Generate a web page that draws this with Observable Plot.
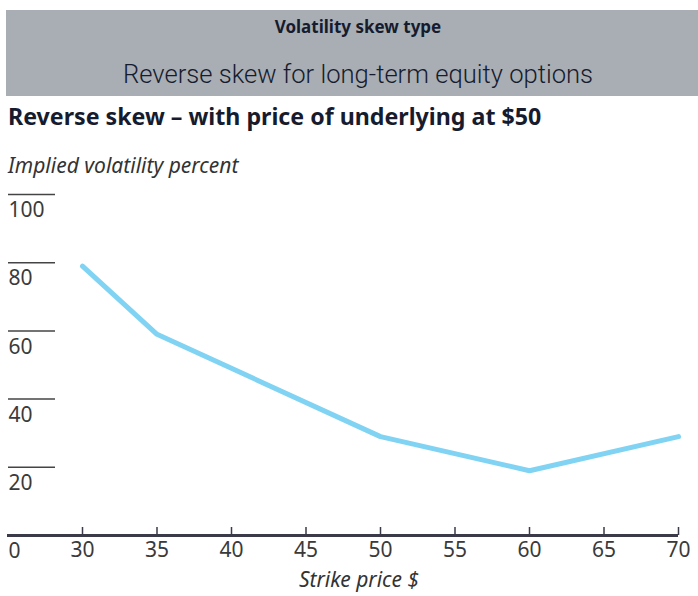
<!DOCTYPE html>
<html>
<head>
<meta charset="utf-8">
<script src="https://cdn.jsdelivr.net/npm/d3@7"></script>
<script src="https://cdn.jsdelivr.net/npm/@observablehq/plot@0.6"></script>
<style>
  html, body { margin: 0; padding: 0; background: #fff; }
  body { width: 698px; height: 596px; position: relative; overflow: hidden; font-family: "Noto Sans", sans-serif; }
  #header { position: absolute; left: 6px; top: 10px; width: 692px; height: 86px; background: #a8aeb4; }
  #kicker { position: absolute; left: 0; width: 704px; top: 5px; text-align: center; font-weight: bold; font-size: 17px; color: #161b2e; }
  #sub { position: absolute; left: 0; width: 704px; top: 49px; text-align: center; font-family: Roboto, "Noto Sans", sans-serif; font-weight: 300; font-size: 25.6px; color: #161b2e; }
  #title { position: absolute; left: 8px; top: 100px; font-weight: bold; font-size: 23.2px; color: #161b2e; white-space: nowrap; }
  #ylab { position: absolute; left: 8px; top: 151px; font-style: italic; font-size: 21px; color: #333; white-space: nowrap; }
  #chart { position: absolute; left: 0; top: 180px; }
</style>
</head>
<body>
<div id="header">
  <div id="kicker">Volatility skew type</div>
  <div id="sub">Reverse skew for long-term equity options</div>
</div>
<div id="title">Reverse skew – with price of underlying at $50</div>
<div id="ylab">Implied volatility percent</div>
<div id="chart"></div>
<script>
const strikes = [30, 35, 50, 60, 70];
const vols = [79, 59, 29, 19, 29];
const xTicks = [30, 35, 40, 45, 50, 55, 60, 65, 70];
const yTicks = [0, 20, 40, 60, 80, 100];
const xLabel = "Strike price $";

const data = strikes.map((s, i) => ({strike: s, vol: vols[i]}));

const W = 698, H = 416, MT = 14, MB = 61;
const frameH = H - MT - MB;

const chart = Plot.plot({
  width: W,
  height: H,
  marginTop: MT,
  marginBottom: MB,
  marginLeft: 7,
  marginRight: 20,
  x: {domain: [30, 70], range: [82, 678], axis: null},
  y: {domain: [0, 100], axis: null},
  style: {fontFamily: "'Noto Sans', sans-serif", background: "transparent"},
  marks: [
    Plot.ruleY(yTicks.filter(d => d > 0), {y: d => d, insetLeft: 1, insetRight: 623, stroke: "#444", strokeWidth: 1.5}),
    Plot.text(yTicks, {y: d => d, text: d => String(d), frameAnchor: "left", textAnchor: "start", dx: 1, dy: 16, fontSize: 21, fill: "#3a3a3a"}),
    Plot.ruleY([0], {stroke: "#3a3a48", strokeWidth: 3}),
    Plot.ruleX(xTicks, {x: d => d, insetTop: frameH - 8, stroke: "#3a3a48", strokeWidth: 1.5}),
    Plot.text(xTicks, {x: d => d, text: d => String(d), frameAnchor: "bottom", dy: 21, fontSize: 21, fill: "#3a3a3a"}),
    Plot.text([xLabel], {text: d => d, frameAnchor: "bottom", dx: 16, dy: 51, fontSize: 21, fontStyle: "italic", fill: "#333"}),
    Plot.line(data, {x: "strike", y: "vol", stroke: "#80d3f2", strokeWidth: 5, strokeLinejoin: "miter"})
  ]
});
document.getElementById("chart").appendChild(chart);
</script>
</body>
</html>
